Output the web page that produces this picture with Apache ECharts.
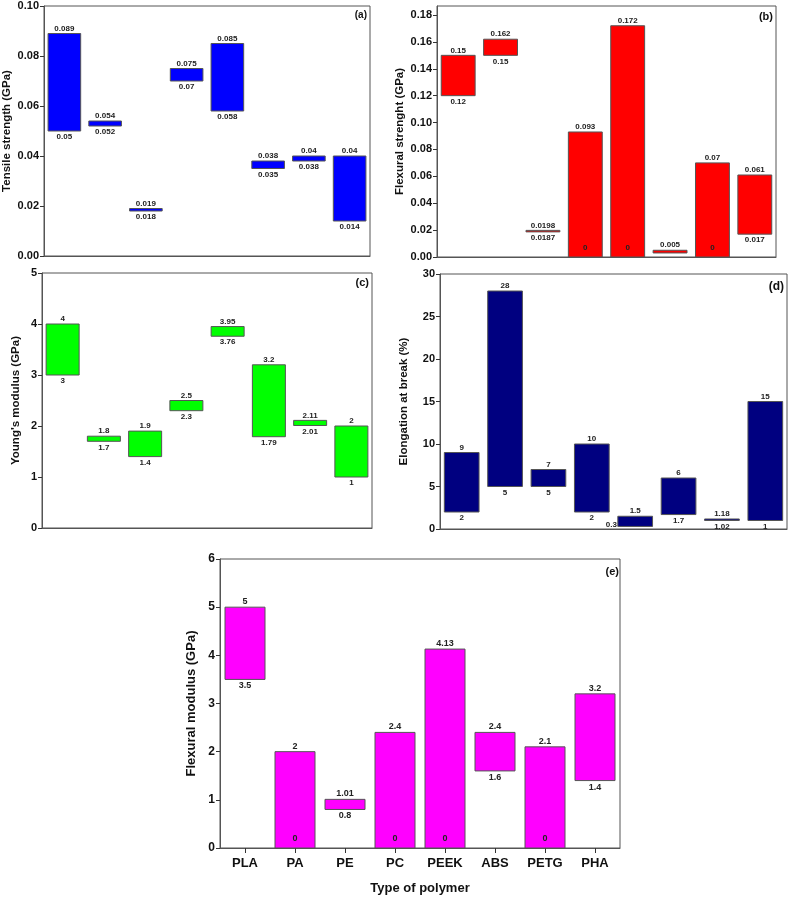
<!DOCTYPE html>
<html><head><meta charset="utf-8">
<script src="https://cdn.jsdelivr.net/npm/echarts@6/dist/echarts.min.js"></script>
<style>html,body{margin:0;padding:0;background:#fff}#c{width:790px;height:897px}</style>
</head><body><div id="c"></div>
<script>
// ---- data ----
const polymers = ['PLA', 'PA', 'PE', 'PC', 'PEEK', 'ABS', 'PETG', 'PHA'];
const tensileLow  = [0.05, 0.052, 0.018, 0.07, 0.058, 0.035, 0.038, 0.014];
const tensileHigh = [0.089, 0.054, 0.019, 0.075, 0.085, 0.038, 0.04, 0.04];
const flexStrLow  = [0.12, 0.15, 0.0187, 0, 0, 0.003, 0, 0.017];
const flexStrHigh = [0.15, 0.162, 0.0198, 0.093, 0.172, 0.005, 0.07, 0.061];
const youngLow    = [3, 1.7, 1.4, 2.3, 3.76, 1.79, 2.01, 1];
const youngHigh   = [4, 1.8, 1.9, 2.5, 3.95, 3.2, 2.11, 2];
const elongLow    = [2, 5, 5, 2, 0.3, 1.7, 1.02, 1];
const elongHigh   = [9, 28, 7, 10, 1.5, 6, 1.18, 15];
const flexModLow  = [3.5, 0, 0.8, 0, 0, 1.6, 0, 1.4];
const flexModHigh = [5, 2, 1.01, 2.4, 4.13, 2.4, 2.1, 3.2];
const ticksA = [0, 0.02, 0.04, 0.06, 0.08, 0.10];
const ticksB = [0, 0.02, 0.04, 0.06, 0.08, 0.10, 0.12, 0.14, 0.16, 0.18];
const ticksC = [0, 1, 2, 3, 4, 5];
const ticksD = [0, 5, 10, 15, 20, 25, 30];
const ticksE = [0, 1, 2, 3, 4, 5, 6];
const panelTitles = ['(a)', '(b)', '(c)', '(d)', '(e)'];
const yNames = ['Tensile strength (GPa)', 'Flexural strenght (GPa)', "Young's modulus (GPa)", 'Elongation at break (%)', 'Flexural modulus (GPa)'];
const xName = 'Type of polymer';

// ---- layout / style ----
const FF = '"Liberation Sans", Arial, sans-serif';
const panels = [
  {low: tensileLow, high: tensileHigh, ticks: ticksA, dec: 2, max: 0.10, color: '#0000FF',
   grid: {left: 44, top: 6, width: 326, height: 250}, nameGap: 31, lf: 8, title: {x: 367, y: 15, fs: 10}},
  {low: flexStrLow, high: flexStrHigh, ticks: ticksB, dec: 2, max: 0.1867, color: '#FF0000',
   grid: {left: 437, top: 6, width: 339, height: 251}, nameGap: 31, lf: 8, hideLow: [5], title: {x: 773, y: 17, fs: 11}},
  {low: youngLow, high: youngHigh, ticks: ticksC, dec: 0, max: 5, color: '#00FF00',
   grid: {left: 42, top: 273, width: 330, height: 255}, nameGap: 20, lf: 8, title: {x: 369, y: 283, fs: 11}},
  {low: elongLow, high: elongHigh, ticks: ticksD, dec: 0, max: 30, color: '#000080',
   grid: {left: 440, top: 274, width: 347, height: 255}, nameGap: 30, lf: 8, leftLow: [4], title: {x: 784, y: 287, fs: 12}},
  {low: flexModLow, high: flexModHigh, ticks: ticksE, dec: 0, max: 6, color: '#FF00FF',
   grid: {left: 220, top: 559, width: 400, height: 289}, nameGap: 22, lf: 9, title: {x: 619, y: 572, fs: 11}, xLabels: true}
];

function makeRender(p) {
  return function (params, api) {
    const i = api.value(0), lo = api.value(1), hi = api.value(2);
    const top = api.coord([i, hi]);
    const bot = api.coord([i, lo]);
    const w = api.size([1, 0])[0] * 0.8;
    const cx = top[0];
    const h = Math.max(bot[1] - top[1], 1.5);
    const txt = (s, x, y, align, va) => ({
      type: 'text',
      style: {text: s, x: x, y: y, align: align, verticalAlign: va,
              fontSize: p.lf, fontWeight: 'bold', fontFamily: FF, fill: '#222'}
    });
    const children = [{
      type: 'rect',
      shape: {x: cx - w / 2, y: top[1], width: w, height: h},
      style: {fill: p.color, stroke: '#555', lineWidth: 1}
    }];
    children.push(txt(String(hi), cx, top[1] - 1, 'center', 'bottom'));
    const idx = params.dataIndex;
    if (!(p.hideLow && p.hideLow.includes(idx))) {
      if (lo === 0) {
        children.push(txt(String(lo), cx, bot[1] - 9, 'center', 'middle'));
      } else if (p.leftLow && p.leftLow.includes(idx)) {
        children.push(txt(String(lo), cx - w / 2 - 1, bot[1] - 2, 'right', 'middle'));
      } else {
        children.push(txt(String(lo), cx, top[1] + h + 2, 'center', 'top'));
      }
    }
    return {type: 'group', children: children};
  };
}

const option = {
  animation: false,
  backgroundColor: '#fff',
  grid: [], xAxis: [], yAxis: [], series: [], graphic: []
};

panels.forEach((p, k) => {
  option.grid.push(Object.assign({show: true, borderColor: '#555', borderWidth: 1, containLabel: false}, p.grid));
  option.xAxis.push({
    type: 'category', gridIndex: k, data: polymers,
    name: p.xLabels ? xName : '', nameLocation: 'middle', nameGap: 34,
    nameTextStyle: {fontSize: 13, fontWeight: 'bold', fontFamily: FF, color: '#111'},
    axisLine: {show: true, lineStyle: {color: '#555', width: 1}},
    axisTick: {show: !!p.xLabels, alignWithLabel: true, length: 5, lineStyle: {color: '#333'}},
    axisLabel: {show: !!p.xLabels, fontSize: 13, fontWeight: 'bold', fontFamily: FF, color: '#111', margin: 9},
    splitLine: {show: false}
  });
  option.yAxis.push({
    type: 'value', gridIndex: k, min: 0, max: p.max,
    name: yNames[k], nameLocation: 'middle', nameGap: p.nameGap,
    nameTextStyle: {fontSize: k === 4 ? 13 : 11.5, fontWeight: 'bold', fontFamily: FF, color: '#111'},
    axisLine: {show: true, lineStyle: {color: '#555', width: 1}},
    axisTick: {show: true, length: 4, lineStyle: {color: '#333'}, customValues: p.ticks},
    axisLabel: {fontSize: k === 4 ? 12 : 11, fontWeight: 'bold', fontFamily: FF, color: '#111', margin: 5,
                customValues: p.ticks, formatter: v => Number(v).toFixed(p.dec)},
    splitLine: {show: false}
  });
  option.series.push({
    type: 'custom', xAxisIndex: k, yAxisIndex: k, clip: false,
    renderItem: makeRender(p),
    encode: {x: 0, y: [1, 2]},
    data: polymers.map((c, i) => [i, p.low[i], p.high[i]])
  });
  option.graphic.push({
    type: 'text', left: undefined,
    style: {text: panelTitles[k], x: p.title.x, y: p.title.y, align: 'right', verticalAlign: 'middle',
            fontSize: p.title.fs, fontWeight: 'bold', fontFamily: FF, fill: '#111'}
  });
});

const chart = echarts.init(document.getElementById('c'), null, {renderer: 'canvas'});
chart.setOption(option);
</script>
</body></html>
